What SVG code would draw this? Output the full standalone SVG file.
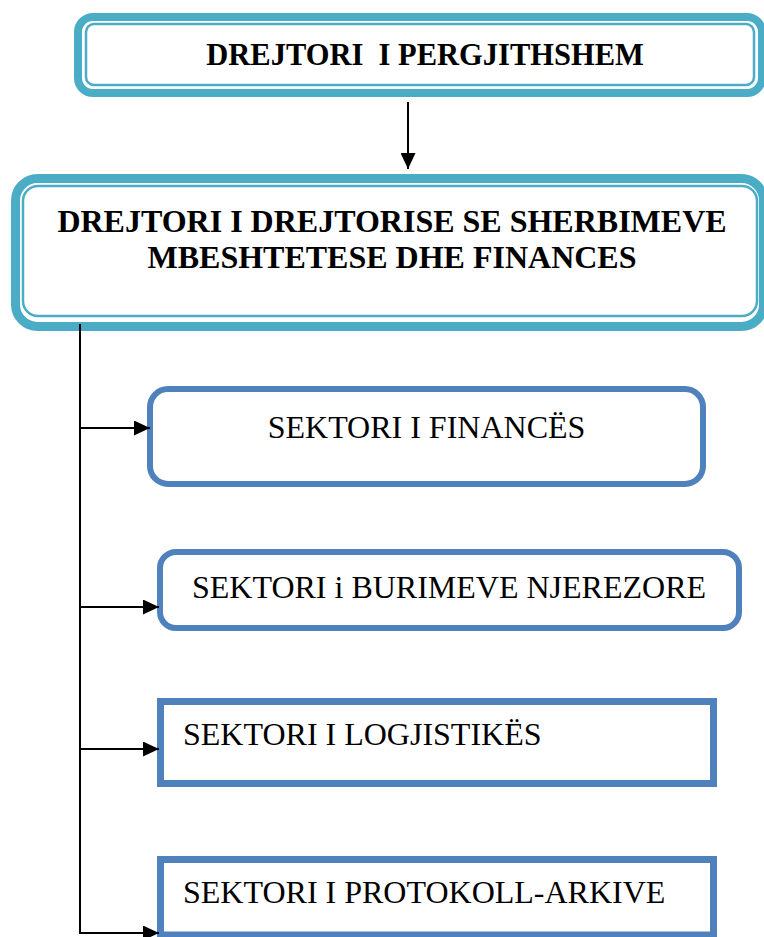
<svg xmlns="http://www.w3.org/2000/svg" width="764" height="937" viewBox="0 0 764 937">
  <style>
    .teal { fill: #ffffff; stroke: #4BACC6; }
    .tealthin { fill: none; stroke: #4BACC6; stroke-width: 2.5; }
    .blue { fill: #ffffff; stroke: #4F81BD; }
    .hdr { font-family: "Liberation Serif", "Times New Roman", serif; font-weight: bold; fill: #000; text-anchor: middle; }
    .sec { font-family: "Liberation Serif", "Times New Roman", serif; font-size: 32px; fill: #000; }
    .conn { stroke: #000; stroke-width: 2; fill: none; }
  </style>
  <defs>
    <marker id="arrow" markerUnits="userSpaceOnUse" markerWidth="16" markerHeight="15" refX="16" refY="7.5" orient="auto">
      <path d="M0,0 L16,7.5 L0,15 z" fill="#000"/>
    </marker>
  </defs>
  <rect width="764" height="937" fill="#ffffff"/>

  <g id="node-director-general">
    <rect class="teal" x="78" y="17" width="684" height="76" rx="15" stroke-width="8"/>
    <rect class="tealthin" x="86" y="24" width="668" height="61" rx="8"/>
    <text class="hdr" x="425" y="65" font-size="30.5" xml:space="preserve">DREJTORI  I PERGJITHSHEM</text>
  </g>

  <g id="node-director-support">
    <rect class="teal" x="15.5" y="178.5" width="748" height="148" rx="22" stroke-width="9"/>
    <rect class="tealthin" x="23" y="186" width="734" height="130" rx="15"/>
    <text class="hdr" x="392" y="232" font-size="32">DREJTORI I DREJTORISE SE SHERBIMEVE</text>
    <text class="hdr" x="392" y="268" font-size="32">MBESHTETESE DHE FINANCES</text>
  </g>

  <g id="node-finance">
    <rect class="blue" x="150" y="389" width="553" height="95" rx="18" stroke-width="6"/>
    <text class="sec" x="426.5" y="438" text-anchor="middle">SEKTORI I FINANCËS</text>
  </g>

  <g id="node-hr">
    <rect class="blue" x="160" y="552" width="579" height="76" rx="16" stroke-width="6"/>
    <text class="sec" x="449" y="598" text-anchor="middle">SEKTORI i BURIMEVE NJEREZORE</text>
  </g>

  <g id="node-logistics">
    <rect class="blue" x="160.5" y="701.5" width="553" height="82" stroke-width="7"/>
    <text class="sec" x="183" y="745">SEKTORI I LOGJISTIKËS</text>
  </g>

  <g id="node-protocol">
    <rect class="blue" x="160.5" y="859.5" width="553" height="75.5" stroke-width="7"/>
    <text class="sec" x="183" y="903">SEKTORI I PROTOKOLL-ARKIVE</text>
  </g>

  <g id="connectors">
    <line class="conn" x1="408" y1="102" x2="408" y2="169" marker-end="url(#arrow)"/>
    <line class="conn" x1="80" y1="324" x2="80" y2="933"/>
    <line class="conn" x1="79" y1="428" x2="150" y2="428" marker-end="url(#arrow)"/>
    <line class="conn" x1="79" y1="607" x2="159" y2="607" marker-end="url(#arrow)"/>
    <line class="conn" x1="79" y1="749" x2="159" y2="749" marker-end="url(#arrow)"/>
    <line class="conn" x1="79" y1="933" x2="159" y2="933" marker-end="url(#arrow)"/>
  </g>
</svg>
